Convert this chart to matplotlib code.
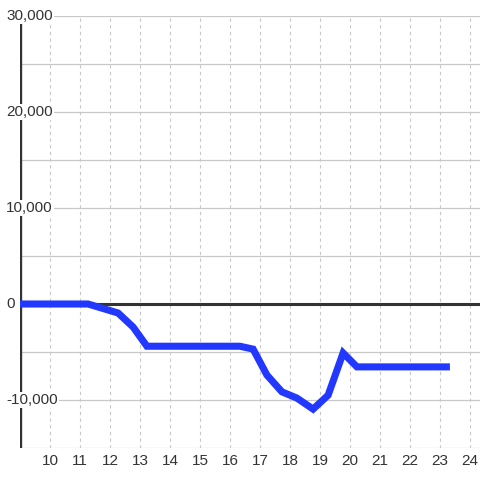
import matplotlib
matplotlib.use("Agg")
import matplotlib.pyplot as plt
import matplotlib.transforms as mtransforms

# Data
x_vals = [9, 11.27, 12.27, 12.77, 13.23, 16.33, 16.77, 17.23, 17.73, 18.23, 18.77, 19.27, 19.77, 20.23, 23.33]
y_vals = [0, 0, -940, -2400, -4400, -4400, -4700, -7400, -9150, -9800, -10950, -9500, -5100, -6550, -6550]
x_ticks = list(range(10, 25))
y_label_vals = [30000, 20000, 10000, 0, -10000]
y_label_text = ["30,000", "20,000", "10,000", "0", "-10,000"]
y_grid_vals = list(range(-15000, 30001, 5000))

plt.rcParams['font.family'] = ['Liberation Sans', 'DejaVu Sans']

fig = plt.figure(figsize=(4.8, 4.8), dpi=100)
fig.patch.set_facecolor('white')
ax = fig.add_axes([20/480, 32/480, 460/480, 432/480])
ax.set_xlim(9, 24.333)
ax.set_ylim(-15000, 30000)
for s in ax.spines.values():
    s.set_visible(False)

# grid
for v in y_grid_vals:
    ax.axhline(v, color='#c8c8c8', lw=0.9, zorder=1)
for v in x_ticks:
    ax.axvline(v, color='#c8c8c8', lw=0.8, ls=(0, (3, 3)), zorder=1)

# zero line and y axis line
ax.axhline(0, color='#333333', lw=2.2, zorder=2)
ax.axvline(9, color='#333333', lw=2.4, zorder=2)

# series
ax.plot(x_vals, y_vals, color='#2238ff', lw=5.1, solid_joinstyle='miter',
        solid_capstyle='butt', zorder=4, clip_on=False)

# ticks
ax.set_yticks([])
ax.set_xticks(x_ticks)
ax.set_xticklabels([str(t) for t in x_ticks])
ax.tick_params(axis='x', length=0, pad=4, labelsize=11, labelcolor='#333333')

trans = mtransforms.blended_transform_factory(fig.transFigure, ax.transData)
for v, t in zip(y_label_vals, y_label_text):
    ax.text(6/480, v, t, transform=trans, ha='left', va='center', fontsize=11,
            color='#333333', zorder=5, clip_on=False,
            bbox=dict(facecolor='white', edgecolor='none', pad=1.0))

fig.savefig('out.png', dpi=100, facecolor='white')
